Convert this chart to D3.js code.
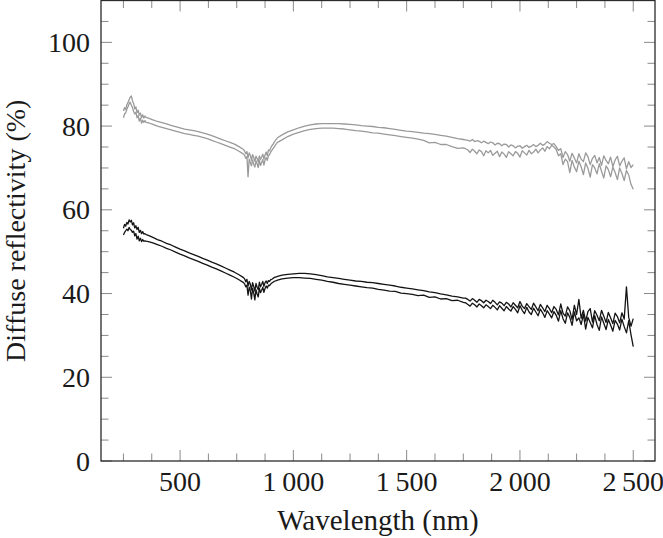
<!DOCTYPE html>
<html>
<head>
<meta charset="utf-8">
<script src="https://cdn.jsdelivr.net/npm/d3@7"></script>
<style>
  html, body { margin: 0; padding: 0; background: #fff; }
  svg { display: block; }
  text { font-family: "Liberation Serif", "DejaVu Serif", serif; fill: #1a1a1a; }
</style>
</head>
<body>
<svg id="chart" width="663" height="538"></svg>
<script>
// ---------- data ----------
// wavelength grid (nm): dense where the spectra are noisy
const wavelength = [].concat(
  d3.range(250, 351, 5),    // 21
  d3.range(360, 781, 20),   // 22
  d3.range(785, 931, 5),    // 30
  d3.range(950, 1751, 25),  // 33
  d3.range(1760, 2501, 10)  // 75
);

const grayUpper = [
  83.6,84.4,84.0,85.1,85.6,86.3,86.9,87.2,86.0,85.4,84.1,84.6,83.2,83.8,82.6,83.1,82.0,82.7,81.9,82.4,82.1,
  81.9,81.5,81.1,80.8,80.5,80.2,79.9,79.6,79.3,79.1,78.9,78.7,78.4,78.1,77.7,77.3,76.9,76.5,76.1,75.7,75.1,74.4,
  74.0,73.4,73.9,72.4,73.6,73.0,71.8,73.2,72.5,71.6,72.8,72.3,71.4,72.9,72.0,72.6,73.3,72.1,73.1,73.8,72.9,74.3,74.1,74.8,75.3,75.6,76.1,76.5,76.9,77.2,
  77.9,78.6,79.1,79.6,80.0,80.3,80.5,80.6,80.6,80.6,80.6,80.5,80.4,80.3,80.1,80.0,79.9,79.7,79.6,79.4,79.2,79.0,78.8,78.7,78.5,78.3,78.2,78.0,77.8,77.6,77.3,77.0,76.8,
  76.7,76.6,76.4,76.8,76.3,76.5,76.4,76.0,76.4,76.1,
  75.8,76.2,76.0,75.5,75.9,75.8,75.3,75.7,75.6,75.0,
  75.5,75.3,74.8,75.2,75.3,74.7,75.1,75.4,74.9,75.2,
  75.6,75.1,75.4,75.9,75.4,75.7,76.3,75.9,75.6,75.8,
  75.1,74.2,74.6,72.5,73.9,73.2,71.6,73.5,72.4,71.2,
  73.4,72.1,71.5,73.6,72.7,70.8,72.3,73.0,71.2,72.5,
  70.6,72.9,71.8,71.0,72.6,70.3,71.9,72.8,70.5,71.6,
  72.4,69.8,71.5,70.1,70.8
];

const grayLower = [
  82.0,82.9,83.2,84.0,84.6,85.3,85.7,85.0,84.4,83.5,82.9,83.3,82.0,82.5,81.2,81.9,80.7,81.4,80.9,81.3,80.9,
  80.8,80.4,80.0,79.7,79.4,79.1,78.8,78.5,78.2,78.0,77.8,77.6,77.3,77.0,76.6,76.2,75.8,75.4,75.0,74.6,74.0,73.3,
  73.0,72.3,72.7,67.9,72.1,71.3,70.5,71.9,70.9,70.2,71.7,71.0,70.1,71.8,70.6,71.3,72.0,70.7,71.9,72.5,71.8,72.9,73.2,73.8,74.2,74.6,75.0,75.4,75.8,76.1,
  76.7,77.5,78.1,78.5,78.9,79.2,79.4,79.5,79.5,79.5,79.4,79.3,79.1,78.9,78.8,78.6,78.4,78.3,78.1,77.9,77.7,77.5,77.3,77.1,76.9,76.6,76.0,76.1,75.6,75.6,75.1,74.7,74.8,
  74.6,74.3,73.7,74.5,74.0,73.4,74.3,73.9,72.9,74.1,
  73.6,74.2,73.0,73.5,74.0,72.7,73.8,73.3,72.5,73.9,
  73.4,72.9,73.9,73.5,72.6,74.1,73.6,73.1,74.2,73.4,
  73.8,74.5,73.6,74.3,74.8,74.0,75.1,74.6,75.4,75.0,
  74.4,72.9,73.4,70.8,72.1,71.5,68.9,71.8,70.2,69.1,
  71.6,70.3,68.4,71.2,69.9,67.8,70.8,70.0,68.6,71.0,
  69.2,67.6,70.5,69.6,67.9,70.2,68.9,67.2,70.0,68.7,
  67.0,69.4,68.3,66.1,64.9
];

const blackUpper = [
  55.6,56.5,56.1,57.0,56.6,57.6,57.1,57.5,56.4,56.9,55.7,56.2,55.3,55.8,54.6,55.1,54.3,54.8,54.2,54.3,54.1,
  53.9,53.4,52.9,52.5,52.0,51.6,51.1,50.6,50.2,49.7,49.3,48.9,48.4,48.0,47.5,47.1,46.6,46.1,45.6,45.1,44.5,43.8,
  43.5,42.8,43.4,41.8,42.9,42.2,40.9,42.6,41.7,40.6,42.4,41.5,40.9,42.7,41.6,42.2,42.9,41.7,42.6,43.0,42.4,43.1,42.9,43.3,43.4,43.6,43.8,43.9,44.0,44.1,
  44.4,44.6,44.7,44.8,44.8,44.7,44.5,44.3,44.0,43.8,43.6,43.4,43.2,43.0,42.9,42.7,42.6,42.4,42.2,42.0,41.8,41.5,41.3,41.1,40.9,40.7,40.4,40.2,39.9,39.7,39.4,39.2,38.9,
  38.9,38.6,38.2,38.8,38.4,37.9,38.6,38.3,37.8,38.4,
  38.1,37.6,38.4,37.9,37.3,38.0,37.7,37.1,37.9,37.5,
  36.8,37.8,37.2,36.6,38.1,37.0,36.4,37.6,36.9,36.2,
  37.7,36.8,35.9,37.4,36.6,35.7,37.2,36.4,35.4,36.9,
  36.2,34.9,37.5,35.3,34.6,36.8,35.9,33.8,37.2,35.0,
  38.6,34.1,36.0,33.4,35.7,36.4,33.2,35.9,34.8,33.5,
  36.0,34.6,33.1,35.5,34.2,32.8,35.3,34.5,33.0,35.4,
  33.9,41.6,34.3,32.2,34.0
];

const blackLower = [
  54.0,54.6,55.0,55.4,55.0,55.8,55.3,55.1,54.6,54.9,53.8,54.3,53.0,53.7,52.6,53.2,52.4,52.9,52.5,52.6,52.5,
  52.4,52.1,51.7,51.3,50.8,50.4,49.9,49.4,49.0,48.5,48.1,47.7,47.2,46.8,46.3,45.9,45.4,44.9,44.4,43.9,43.3,42.6,
  42.3,41.6,42.0,39.6,41.5,40.7,38.7,41.2,40.1,38.5,40.9,39.9,39.2,41.3,40.2,40.8,41.5,40.3,41.2,41.8,41.3,42.0,41.9,42.3,42.5,42.7,42.9,43.0,43.1,43.2,
  43.5,43.7,43.8,43.8,43.7,43.6,43.4,43.2,42.9,42.7,42.4,42.2,42.0,41.8,41.6,41.4,41.3,41.0,40.8,40.6,40.5,40.1,40.0,39.8,39.5,39.6,39.1,39.2,38.7,38.8,38.3,38.4,37.9,
  37.8,37.4,37.0,37.7,37.3,36.8,37.5,37.1,36.6,37.3,
  36.9,36.4,37.2,36.7,36.1,37.1,36.5,35.9,36.9,36.3,
  35.8,36.9,36.2,35.4,37.1,36.0,35.2,36.7,35.6,35.0,
  36.5,35.6,34.7,36.3,35.4,34.3,35.9,35.1,34.2,35.7,
  34.8,33.4,35.9,34.0,32.9,35.4,34.3,32.4,35.6,33.5,
  34.2,32.6,35.0,31.5,34.3,33.1,31.8,34.7,32.6,31.2,
  34.4,32.9,31.4,33.8,32.5,31.0,33.6,32.7,31.3,33.9,
  32.1,30.6,33.5,30.2,27.3
];

const xTickValues = [500, 1000, 1500, 2000, 2500];
const xTickLabels = ["500", "1\u2009000", "1\u2009500", "2\u2009000", "2\u2009500"];
const yTickValues = [0, 20, 40, 60, 80, 100];
const yTickLabels = ["0", "20", "40", "60", "80", "100"];
const xMinorTicks = [250, 375, 625, 750, 875, 1125, 1250, 1375, 1625, 1750, 1875, 2125, 2250, 2375];
const yMinorTicks = [5, 10, 15, 25, 30, 35, 45, 50, 55, 65, 70, 75, 85, 90, 95, 105];
const xLabel = "Wavelength (nm)";
const yLabel = "Diffuse reflectivity (%)";

const series = [
  { name: "grayUpper", values: grayUpper, color: "#9a9a9a" },
  { name: "grayLower", values: grayLower, color: "#9a9a9a" },
  { name: "blackUpper", values: blackUpper, color: "#141414" },
  { name: "blackLower", values: blackLower, color: "#141414" }
];

// ---------- layout ----------
const L = 101, R = 655, T = 0.5, B = 461;
const svg = d3.select("#chart");

const x = d3.scaleLinear().domain([151, 2596]).range([L, R]);
const y = d3.scaleLinear().domain([0, 110]).range([B, T]);

const majorLen = 11, minorLen = 7.5;
const tickColor = "#8a8a8a";

// ticks (mirrored on all four sides, pointing inward)
const tg = svg.append("g").attr("stroke", tickColor).attr("stroke-width", 1);
function xTick(v, len) {
  tg.append("line").attr("x1", x(v)).attr("x2", x(v)).attr("y1", B).attr("y2", B - len);
  tg.append("line").attr("x1", x(v)).attr("x2", x(v)).attr("y1", T).attr("y2", T + len);
}
function yTick(v, len) {
  tg.append("line").attr("x1", L).attr("x2", L + len).attr("y1", y(v)).attr("y2", y(v));
  tg.append("line").attr("x1", R).attr("x2", R - len).attr("y1", y(v)).attr("y2", y(v));
}
xTickValues.forEach(v => xTick(v, majorLen));
xMinorTicks.forEach(v => xTick(v, minorLen));
yTickValues.forEach(v => yTick(v, majorLen));
yMinorTicks.forEach(v => yTick(v, minorLen));

// data lines
const line = d3.line()
  .x((d, i) => x(wavelength[i]))
  .y(d => y(d));

const lg = svg.append("g");
series.forEach(s => {
  lg.append("path")
    .datum(s.values)
    .attr("fill", "none")
    .attr("stroke", s.color)
    .attr("stroke-width", 1.3)
    .attr("stroke-linejoin", "round")
    .attr("d", line);
});

// frame
svg.append("rect")
  .attr("x", L).attr("y", T)
  .attr("width", R - L).attr("height", B - T)
  .attr("fill", "none")
  .attr("stroke", "#2a2a2a")
  .attr("stroke-width", 1.3);

// tick labels
const fs = 28;
svg.append("g").selectAll("text")
  .data(xTickValues)
  .join("text")
  .attr("x", d => x(d))
  .attr("y", 491)
  .attr("text-anchor", "middle")
  .attr("font-size", fs)
  .text((d, i) => xTickLabels[i]);

svg.append("g").selectAll("text")
  .data(yTickValues)
  .join("text")
  .attr("x", 90)
  .attr("y", d => y(d))
  .attr("dy", "0.34em")
  .attr("text-anchor", "end")
  .attr("font-size", fs)
  .text((d, i) => yTickLabels[i]);

// axis labels
svg.append("text")
  .attr("x", (L + R) / 2)
  .attr("y", 530)
  .attr("text-anchor", "middle")
  .attr("font-size", 29)
  .text(xLabel);

svg.append("text")
  .attr("transform", `translate(25, ${(T + B) / 2}) rotate(-90)`)
  .attr("text-anchor", "middle")
  .attr("font-size", 28)
  .text(yLabel);
</script>
</body>
</html>
